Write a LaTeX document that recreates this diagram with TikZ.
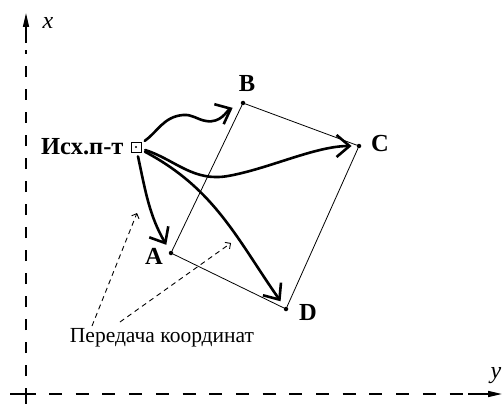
\documentclass[tikz,border=0pt]{standalone}
\usepackage{fontspec}
\setmainfont{Liberation Serif}
\usetikzlibrary{arrows.meta}
\tikzset{
  pnt/.style={circle,fill,inner sep=0pt,minimum size=4.5pt},
  src/.style={draw,line width=0.9pt,inner sep=0pt,minimum size=10pt},
  lab/.style={font=\fontsize{24.5}{26}\selectfont\bfseries},
  side/.style={line width=0.8pt},
  hod/.style={line width=2.6pt,line cap=round,
    -{Straight Barb[length=13pt,width=22pt]}},
  per/.style={line width=0.9pt,dash pattern=on 5pt off 4pt,
    -{Straight Barb[length=4pt,width=8pt]}},
  ax/.style={line width=1.5pt},
  axtip/.style={line width=1.5pt,-{Triangle[length=14pt,width=6pt]}},
}
\begin{document}
\begin{tikzpicture}[x=1pt,y=-1pt]
  \useasboundingbox (0,0) rectangle (502,406);
  % osi
  \draw[ax] (10,394) -- (36,394);
  \draw[ax,dash pattern=on 13pt off 13.7pt] (49,394) -- (468,394);
  \draw[axtip] (468,394) -- (502,394);
  \draw[ax] (26,388) -- (26,404);
  \draw[ax,dash pattern=on 11pt off 12pt] (26,376) -- (26,50);
  \draw[axtip] (26,43) -- (26,13);
  \node[font=\fontsize{24}{26}\selectfont\itshape,anchor=west] (ox) at (39,23) {x};
  \node[font=\fontsize{24}{26}\selectfont\itshape,anchor=west] (oy) at (487,376) {y};
  % punkty
  \node[src] (isx) at (136,147) {};
  \fill (isx) circle (1.2pt);
  \node[pnt] (A) at (171,253) {};
  \node[pnt] (B) at (243,103) {};
  \node[pnt] (C) at (359,146) {};
  \node[pnt] (D) at (286,309) {};
  \node[lab,anchor=east] at (127,147) {Исх.п-т};
  \node[lab] at (247,84) {B};
  \node[lab] at (380,144) {C};
  \node[lab] at (154,256) {A};
  \node[lab] at (308,312) {D};
  % storony
  \draw[side] (A) -- (B) -- (C) -- (D) -- (A);
  % hody
  \draw[hod,shorten <=4pt,shorten >=9pt] (isx) to[out=35,in=185] (183,115)
    to[out=5,in=170] (206,121) to[out=-10,in=205] (B);
  \draw[hod,shorten <=4pt,shorten >=5pt] (isx) to[out=-18,in=190] (228,176)
    to[out=10,in=180,looseness=0.8] (C);
  \draw[hod,shorten <=4pt,shorten >=7pt] (isx) to[out=-28,in=125] (D);
  \draw[hod,shorten <=4pt,shorten >=7pt] (isx) to[out=-78,in=120] (A);
  % peredacha
  \node[font=\fontsize{21.5}{23}\selectfont] (txt) at (162,338) {Передача координат};
  \coordinate (t1) at (92,326);
  \coordinate (t2) at (120,322);
  \coordinate (e1) at (137,213);
  \coordinate (e2) at (231,243);
  \draw[per] (t1) -- (e1);
  \draw[per] (t2) -- (e2);
\end{tikzpicture}
\end{document}
